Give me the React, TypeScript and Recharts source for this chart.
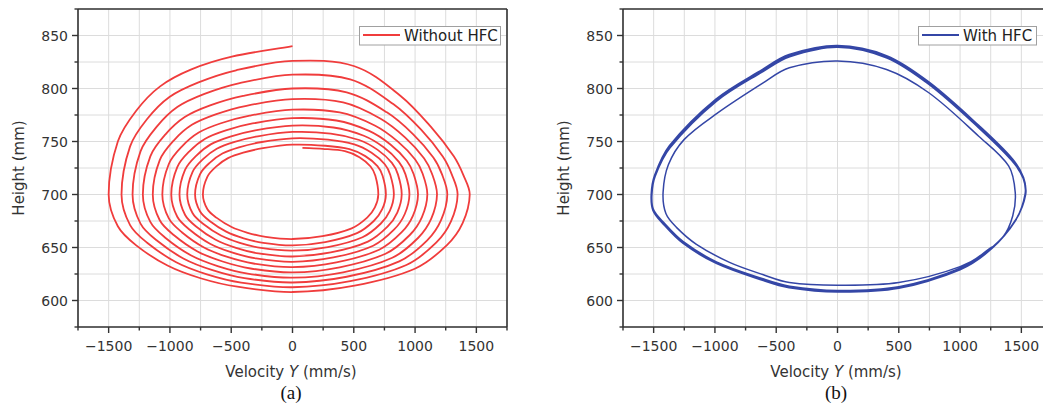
import React from "react";
import { CartesianGrid, Line, LineChart, ReferenceLine, XAxis, YAxis } from "recharts";

// Phase portraits, height vs lateral velocity. (a) spirals in, (b) settles on a cycle.

const X_TICKS = [-1750, -1500, -1250, -1000, -750, -500, -250, 0, 250, 500, 750, 1000, 1250, 1500, 1750];
const Y_TICKS = [575, 600, 625, 650, 675, 700, 725, 750, 775, 800, 825, 850, 875];

// [velocity mm/s, height mm], one trajectory, a line per loop (top -> left -> bottom -> right)
const withoutHfc: [number, number][] = [
  [0, 840], [-495, 830], [-825, 818], [-1080, 802], [-1275, 779], [-1425, 750], [-1500, 700], [-1425, 670], [-1275, 652], [-1020, 633], [-750, 621], [-450, 613], [0, 608], [506, 614], [998, 630], [1258, 652], [1388, 673], [1446, 700], [1395, 718], [1316, 736], [1128, 764], [882, 793], [506, 821],
  [0, 826], [-460, 817.2], [-767, 805.8], [-1004, 792], [-1186, 771.2], [-1325, 745.4], [-1395, 700], [-1325, 671.1], [-1186, 654.5], [-949, 636.1], [-698, 624.7], [-419, 616.9], [0, 612.5], [471, 618.2], [929, 633.5], [1172, 654.5], [1293, 674.6], [1347, 700], [1300, 718.8], [1226, 735.8], [1051, 760.9], [822, 785.3], [471, 808.7],
  [0, 813], [-431, 805.1], [-718, 794.9], [-940, 782.5], [-1109, 763.8], [-1240, 740.7], [-1305, 700], [-1240, 672.6], [-1109, 656.8], [-887, 639.4], [-653, 628.6], [-392, 621.1], [0, 617], [442, 622.4], [871, 636.9], [1099, 656.8], [1212, 675.9], [1263, 700], [1219, 719.2], [1149, 734.9], [985, 756.8], [770, 777.5], [442, 796.4],
  [0, 800], [-403, 793], [-672, 784], [-879, 773], [-1038, 756.5], [-1160, 736], [-1221, 700], [-1160, 674.1], [-1038, 659.2], [-830, 642.7], [-611, 632.5], [-366, 625.4], [0, 621.5], [413, 626.6], [814, 640.3], [1026, 659.2], [1132, 677.2], [1179, 700], [1138, 719.6], [1073, 734.2], [920, 753.7], [719, 771.5], [413, 786.9],
  [0, 790], [-376, 783.7], [-627, 775.6], [-821, 765.7], [-969, 750.9], [-1083, 732.4], [-1140, 700], [-1083, 675.7], [-969, 661.8], [-775, 646.3], [-570, 636.8], [-342, 630.2], [0, 626.5], [385, 631.3], [759, 644.1], [957, 661.8], [1056, 678.7], [1100, 700], [1062, 719.5], [1001, 733], [858, 750.1], [671, 765.1], [385, 777.4],
  [0, 780], [-350, 774.4], [-584, 767.2], [-765, 758.4], [-903, 745.2], [-1009, 728.8], [-1062, 700], [-1009, 677.4], [-903, 664.4], [-722, 650], [-531, 641.1], [-319, 634.9], [0, 631.5], [358, 636], [707, 647.9], [891, 664.4], [983, 680.1], [1024, 700], [988, 719.4], [932, 731.9], [799, 747.2], [625, 760], [358, 769.8],
  [0, 772], [-326, 767], [-544, 760.5], [-712, 752.6], [-841, 740.7], [-940, 725.9], [-989, 700], [-940, 679], [-841, 667], [-673, 653.6], [-495, 645.4], [-297, 639.7], [0, 636.5], [334, 640.6], [658, 651.7], [830, 667], [916, 681.6], [954, 700], [921, 719.2], [868, 730.8], [744, 744.5], [582, 755.4], [334, 763.2],
  [0, 765], [-304, 760.5], [-507, 754.6], [-664, 747.5], [-784, 736.7], [-876, 723.4], [-922, 700], [-876, 680.7], [-784, 669.6], [-627, 657.3], [-461, 649.7], [-277, 644.4], [0, 641.5], [312, 645.3], [615, 655.5], [775, 669.6], [855, 683], [891, 700], [860, 719], [811, 729.9], [695, 742.1], [544, 751.4], [312, 757.5],
  [0, 759], [-283, 754.9], [-472, 749.6], [-618, 743.1], [-730, 733.3], [-816, 721.2], [-859, 700], [-816, 682.5], [-730, 672.4], [-584, 661.3], [-430, 654.4], [-258, 649.6], [0, 647], [289, 650.4], [571, 659.7], [719, 672.4], [794, 684.6], [827, 700], [798, 718.4], [753, 728.5], [645, 739.3], [504, 747.2], [289, 751.7],
  [0, 753], [-262, 749.3], [-437, 744.5], [-572, 738.7], [-676, 729.9], [-755, 719.1], [-795, 700], [-755, 684.2], [-676, 675], [-541, 665], [-398, 658.7], [-239, 654.4], [0, 652], [267, 655.1], [526, 663.5], [663, 675], [732, 686.1], [762, 700], [735, 717.6], [693, 726.7], [594, 736.2], [465, 742.8], [267, 746],
  [0, 747], [-241, 743.7], [-402, 739.5], [-526, 734.3], [-621, 726.6], [-694, 716.9], [-731, 700], [-694, 686.1], [-621, 678.2], [-497, 669.3], [-366, 663.9], [-219, 660.1], [0, 658], [245, 660.7], [483, 668.1], [609, 678.2], [672, 687.8], [700, 700], [676, 717.6], [637, 726.4], [546, 735.2], [427, 740.9], [245, 743.1], [81, 744],
];

// first (inner) loop, then the trajectory sits on the outer cycle
const withHfc: [number, number][] = [
  [1150, 640], [1350, 660], [1430, 680], [1450, 702], [1396, 727], [1152, 755], [745, 796], [400, 818],
  [0, 826], [-393, 819.5], [-610, 805], [-989, 776], [-1250, 752], [-1380, 728], [-1423, 702], [-1400, 682],
  [-1314, 669], [-1151, 653], [-881, 636], [-610, 624.5], [-393, 617], [0, 614.5], [500, 617], [1000, 632],
  [1260, 650], [1450, 675], [1530, 700],
  [1515, 715], [1423, 733], [1152, 764], [745, 805], [400, 830], [0, 839.5], [-393, 831], [-610, 817],
  [-989, 789], [-1369, 745], [-1490, 718], [-1517, 700], [-1504, 686], [-1423, 673.5], [-1260, 655],
  [-989, 636], [-610, 620], [-393, 613], [0, 609], [500, 612], [1000, 629], [1260, 649], [1455, 676], [1533, 700],
  [1518, 716], [1425, 734], [1155, 765], [748, 806], [400, 831], [0, 840.5], [-395, 832], [-612, 818],
  [-992, 790], [-1372, 746], [-1493, 718], [-1520, 700], [-1506, 685], [-1425, 672.5], [-1262, 654],
  [-990, 635], [-612, 619], [-395, 612], [0, 608], [500, 611.5], [1000, 629.5], [1265, 650], [1458, 677], [1535, 700],
  [1516, 715], [1421, 732], [1150, 763], [743, 804], [398, 829], [0, 839], [-390, 830], [-608, 816],
  [-986, 788], [-1366, 744], [-1488, 717], [-1514, 700], [-1502, 686], [-1421, 674], [-1258, 655.5],
  [-987, 636.5], [-608, 620.5], [-391, 613.5], [0, 609.5], [500, 613], [1000, 630.5], [1262, 650.5],
];

const AXIS = "#333333";
const GRID = "#dcdcdc";
const RED = "#f03c3c";
const BLUE = "#3446a6";
const FONT = "'DejaVu Sans', sans-serif";

const fmt = (v: number) => (v < 0 ? `\u2212${-v}` : `${v}`);

// smooth curve through the scaled points; tangents follow chord length so
// unevenly spaced samples don't overshoot (natural spline wobbles here)
function smoothCurve(context: any) {
  let pts: number[][] = [];
  return {
    areaStart() {},
    areaEnd() {},
    lineStart() {
      pts = [];
    },
    point(x: number, y: number) {
      pts.push([+x, +y]);
    },
    lineEnd() {
      const n = pts.length;
      if (!n) return;
      const tan = (i: number) => {
        const a = pts[Math.max(i - 1, 0)];
        const b = pts[Math.min(i + 1, n - 1)];
        const d = Math.hypot(b[0] - a[0], b[1] - a[1]) || 1;
        return [(b[0] - a[0]) / d, (b[1] - a[1]) / d];
      };
      context.moveTo(pts[0][0], pts[0][1]);
      for (let i = 0; i < n - 1; i++) {
        const p = pts[i];
        const q = pts[i + 1];
        const len = Math.hypot(q[0] - p[0], q[1] - p[1]) / 3;
        const t1 = tan(i);
        const t2 = tan(i + 1);
        context.bezierCurveTo(p[0] + t1[0] * len, p[1] + t1[1] * len, q[0] - t2[0] * len, q[1] - t2[1] * len, q[0], q[1]);
      }
    },
  };
}

function XTick(p: any) {
  const v = p.payload.value;
  const major = v % 500 === 0;
  return (
    <g>
      <line x1={p.x} x2={p.x} y1={p.y} y2={p.y + (major ? 6 : 3.5)} stroke={AXIS} strokeWidth={1.4} />
      {major && (
        <text x={p.x} y={p.y + 24} textAnchor="middle" fontSize={14} fill={AXIS} fontFamily={FONT}>
          {fmt(v)}
        </text>
      )}
    </g>
  );
}

function YTick(p: any) {
  const v = p.payload.value;
  const major = v % 50 === 0;
  return (
    <g>
      <line x1={p.x - (major ? 6 : 3.5)} x2={p.x} y1={p.y} y2={p.y} stroke={AXIS} strokeWidth={1.4} />
      {major && (
        <text x={p.x - 10} y={p.y + 5} textAnchor="end" fontSize={14} fill={AXIS} fontFamily={FONT}>
          {fmt(v)}
        </text>
      )}
    </g>
  );
}

function Panel({ left, points, color, width }: { left: number; points: [number, number][]; color: string; width: number }) {
  const data = points.map(([v, h]) => ({ v, h }));
  return (
    <div style={{ position: "absolute", left, top: 0 }}>
      <LineChart width={520} height={360} data={data} margin={{ top: 9, right: 13, bottom: 0, left: 0 }}>
        <CartesianGrid stroke={GRID} strokeWidth={1} />
        <XAxis
          dataKey="v"
          type="number"
          domain={[-1750, 1750]}
          ticks={X_TICKS}
          interval={0}
          height={33}
          tickSize={0}
          tickMargin={0}
          tickLine={false}
          tick={(p: any) => <XTick {...p} />}
          axisLine={{ stroke: AXIS, strokeWidth: 1.6 }}
        />
        <YAxis
          type="number"
          domain={[575, 875]}
          ticks={Y_TICKS}
          interval={0}
          width={78}
          tickSize={0}
          tickMargin={0}
          tickLine={false}
          tick={(p: any) => <YTick {...p} />}
          axisLine={{ stroke: AXIS, strokeWidth: 1.6 }}
        />
        <ReferenceLine y={875} stroke={AXIS} strokeWidth={1.6} />
        <ReferenceLine x={1750} stroke={AXIS} strokeWidth={1.6} />
        <Line
          dataKey="h"
          type={smoothCurve as any}
          stroke={color}
          strokeWidth={width}
          dot={false}
          isAnimationActive={false}
        />
      </LineChart>
    </div>
  );
}

function Titles({ cx, axisX, tag }: { cx: number; axisX: number; tag: string }) {
  return (
    <g fontFamily={FONT} fill={AXIS}>
      <text x={cx} y={377} textAnchor="middle" fontSize={15}>
        Velocity <tspan fontStyle="italic">Y</tspan> (mm/s)
      </text>
      <text x={axisX - 54} y={168} textAnchor="middle" fontSize={15} transform={`rotate(-90 ${axisX - 54} 168)`}>
        Height (mm)
      </text>
      <text x={cx} y={399} textAnchor="middle" fontSize={19} fontFamily="'Liberation Serif', serif" fill="#111">
        {tag}
      </text>
    </g>
  );
}

function LegendBox({ x, w, color, label }: { x: number; w: number; color: string; label: string }) {
  return (
    <g>
      <rect x={x + 0.5} y={26.5} width={w} height={18.5} fill="#fff" stroke="#a0a0a0" strokeWidth={1} />
      <line x1={x + 4} x2={x + 41} y1={35} y2={35} stroke={color} strokeWidth={1.8} />
      <text x={x + 45} y={41} fontSize={15} fontFamily={FONT} fill="#222">
        {label}
      </text>
    </g>
  );
}

export default function App() {
  return (
    <div
      style={{
        position: "absolute",
        left: 0,
        top: 0,
        width: 1043,
        height: 405,
        overflow: "hidden",
        background: "#fff",
        fontFamily: FONT,
      }}
    >
      <Panel left={0} points={withoutHfc} color={RED} width={1.8} />
      <Panel left={545} points={withHfc} color={BLUE} width={1.5} />
      <svg width={1043} height={405} style={{ position: "absolute", left: 0, top: 0, pointerEvents: "none" }}>
        <Titles cx={291} axisX={78} tag="(a)" />
        <Titles cx={836} axisX={623} tag="(b)" />
        <LegendBox x={359} w={141} color={RED} label="Without HFC" />
        <LegendBox x={918} w={118} color={BLUE} label="With HFC" />
      </svg>
    </div>
  );
}
